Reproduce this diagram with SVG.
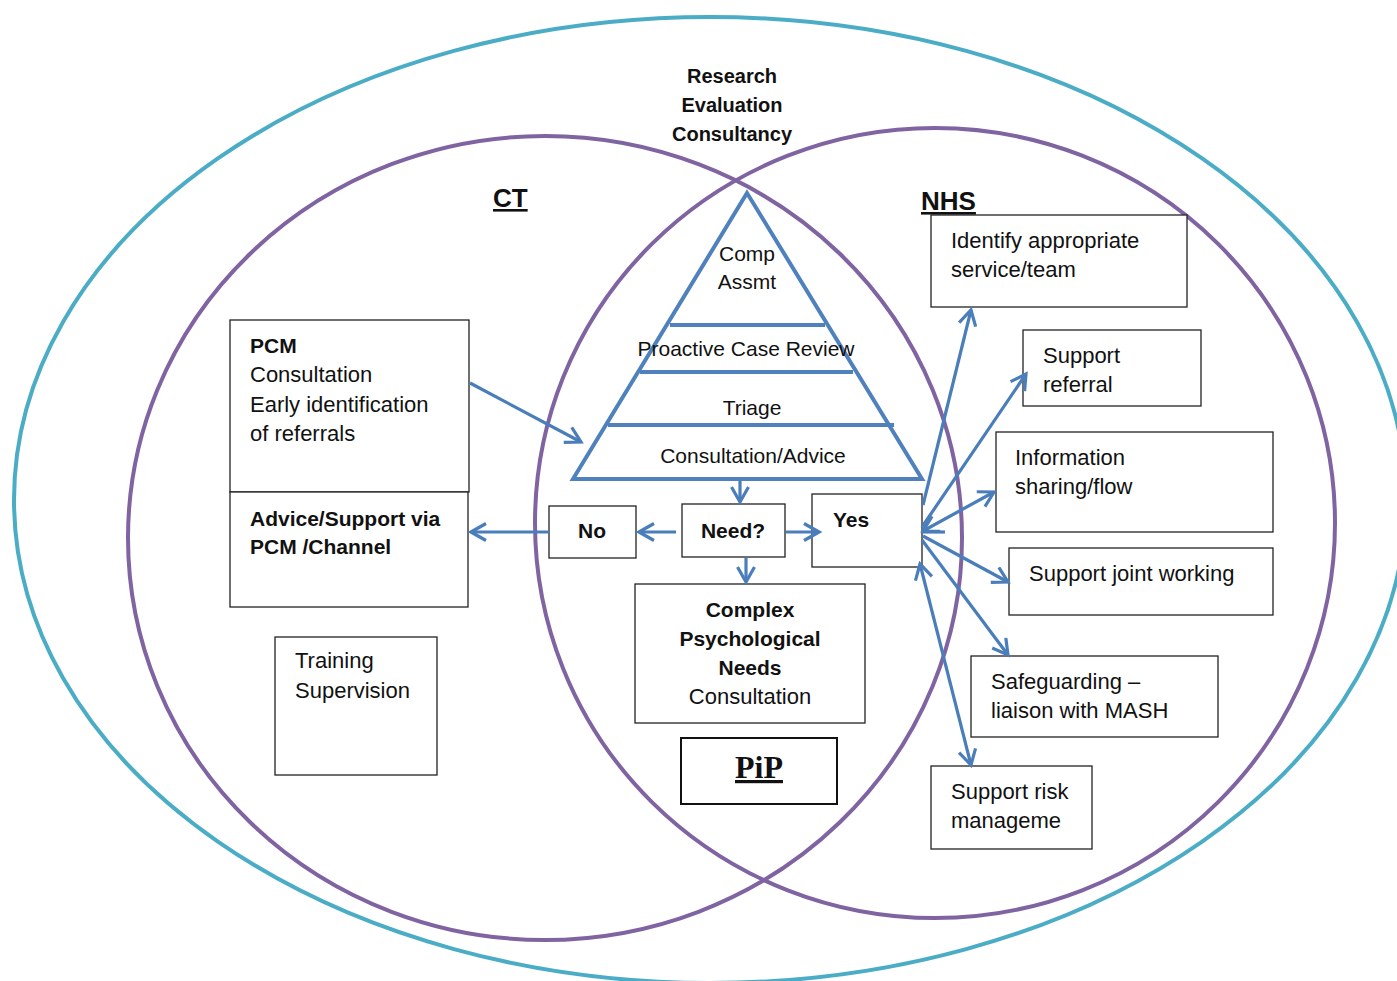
<svg xmlns="http://www.w3.org/2000/svg" width="1397" height="981" viewBox="0 0 1397 981">
<style>
.teal{fill:none;stroke:#4BACC6;stroke-width:4}
.purple{fill:none;stroke:#8064A2;stroke-width:4}
.box{fill:#fff;stroke:#222;stroke-width:1.3}
.tri{fill:none;stroke:#4F81BD;stroke-width:4}
.conn{fill:none;stroke:#4A7EBB;stroke-width:3.2}
.t{font-family:"Liberation Sans",Arial,sans-serif;font-size:22px;fill:#111}
.tp{font-family:"Liberation Sans",Arial,sans-serif;font-size:21px;fill:#111}
.b{font-family:"Liberation Sans",Arial,sans-serif;font-size:21px;font-weight:bold;fill:#111}
.h{font-family:"Liberation Sans",Arial,sans-serif;font-size:20px;font-weight:bold;fill:#111}
.mid{text-anchor:middle}
</style>
<defs>
<marker id="ah" viewBox="0 0 20 20" refX="17" refY="10" markerWidth="20" markerHeight="20" markerUnits="userSpaceOnUse" orient="auto-start-reverse">
<path d="M2,1.5 L17,10 L2,18.5" fill="none" stroke="#4A7EBB" stroke-width="3.2"/>
</marker>
</defs>
<rect width="1397" height="981" fill="#fff"/>
<g id="circles">
<ellipse class="teal" cx="710" cy="500" rx="696" ry="483"/>
<ellipse class="purple" cx="545" cy="538" rx="417" ry="402"/>
<ellipse class="purple" cx="935" cy="523" rx="400" ry="395"/>
</g>
<g id="labels">
<text class="h mid" x="732" y="83">Research</text>
<text class="h mid" x="732" y="112">Evaluation</text>
<text class="h mid" x="732" y="141">Consultancy</text>
<text x="493" y="207" style="font-family:'Liberation Sans',Arial,sans-serif;font-size:26px;font-weight:bold;text-decoration:underline" fill="#111">CT</text>
<text x="921" y="210" style="font-family:'Liberation Sans',Arial,sans-serif;font-size:26px;font-weight:bold;text-decoration:underline" fill="#111">NHS</text>
</g>
<g id="pyramid">
<path class="tri" d="M747,193 L573,479 L922,479 Z"/>
<line class="tri" x1="670" y1="325" x2="825" y2="325"/>
<line class="tri" x1="640" y1="372" x2="853" y2="372"/>
<line class="tri" x1="608" y1="425" x2="894" y2="425"/>
<text class="tp mid" x="747" y="261">Comp</text>
<text class="tp mid" x="747" y="289">Assmt</text>
<text class="tp mid" x="746" y="356">Proactive Case Review</text>
<text class="tp mid" x="752" y="415">Triage</text>
<text class="tp mid" x="753" y="463">Consultation/Advice</text>
</g>
<g id="pcm">
<rect class="box" x="230" y="320" width="239" height="172"/>
<text class="b" x="250" y="353">PCM</text>
<text class="t" x="250" y="382">Consultation</text>
<text class="t" x="250" y="412">Early identification</text>
<text class="t" x="250" y="441">of referrals</text>
</g>
<g id="advice">
<rect class="box" x="230" y="492" width="238" height="115"/>
<text class="b" x="250" y="526">Advice/Support via</text>
<text class="b" x="250" y="554">PCM /Channel</text>
</g>
<g id="training">
<rect class="box" x="275" y="637" width="162" height="138"/>
<text class="t" x="295" y="668">Training</text>
<text class="t" x="295" y="698">Supervision</text>
</g>
<g id="no">
<rect class="box" x="549" y="506" width="87" height="52"/>
<text class="b mid" x="592" y="538">No</text>
</g>
<g id="need">
<rect class="box" x="682" y="504" width="103" height="53"/>
<text class="b mid" x="733" y="538">Need?</text>
</g>
<g id="yes">
<rect class="box" x="812" y="494" width="110" height="73"/>
<text class="b" x="833" y="527">Yes</text>
</g>
<g id="complex">
<rect class="box" x="635" y="584" width="230" height="139"/>
<text class="b mid" x="750" y="617">Complex</text>
<text class="b mid" x="750" y="646">Psychological</text>
<text class="b mid" x="750" y="675">Needs</text>
<text class="t mid" x="750" y="704">Consultation</text>
</g>
<g id="pip">
<rect x="681" y="738" width="156" height="66" fill="#fff" stroke="#111" stroke-width="2"/>
<text x="759" y="778" text-anchor="middle" style="font-family:'Liberation Serif','Times New Roman',serif;font-size:32px;font-weight:bold;text-decoration:underline" fill="#111">PiP</text>
</g>
<g id="identify">
<rect class="box" x="931" y="215" width="256" height="92"/>
<text class="t" x="951" y="248">Identify appropriate</text>
<text class="t" x="951" y="277">service/team</text>
</g>
<g id="referral">
<rect class="box" x="1023" y="330" width="178" height="76"/>
<text class="t" x="1043" y="363">Support</text>
<text class="t" x="1043" y="392">referral</text>
</g>
<g id="info">
<rect class="box" x="996" y="432" width="277" height="100"/>
<text class="t" x="1015" y="465">Information</text>
<text class="t" x="1015" y="494">sharing/flow</text>
</g>
<g id="joint">
<rect class="box" x="1009" y="548" width="264" height="67"/>
<text class="t" x="1029" y="581">Support joint working</text>
</g>
<g id="safeguarding">
<rect class="box" x="971" y="656" width="247" height="81"/>
<text class="t" x="991" y="689">Safeguarding –</text>
<text class="t" x="991" y="718">liaison with MASH</text>
</g>
<g id="risk">
<rect class="box" x="931" y="766" width="161" height="83"/>
<text class="t" x="951" y="799">Support risk</text>
<text class="t" x="951" y="828">manageme</text>
</g>
<g id="connectors">
<line class="conn" x1="470" y1="383" x2="581" y2="442" marker-end="url(#ah)"/>
<line class="conn" x1="740" y1="481" x2="740" y2="502" marker-end="url(#ah)"/>
<line class="conn" x1="676" y1="532" x2="639" y2="532" marker-end="url(#ah)"/>
<line class="conn" x1="549" y1="532" x2="471" y2="532" marker-end="url(#ah)"/>
<line class="conn" x1="786" y1="532" x2="819" y2="532" marker-end="url(#ah)"/>
<line class="conn" x1="746" y1="558" x2="746" y2="582" marker-end="url(#ah)"/>
<line class="conn" x1="923" y1="505" x2="971" y2="310" marker-end="url(#ah)"/>
<line class="conn" x1="922" y1="527" x2="1026" y2="374" marker-end="url(#ah)"/>
<line class="conn" x1="923" y1="531" x2="994" y2="492" marker-start="url(#ah)" marker-end="url(#ah)"/>
<line class="conn" x1="922" y1="532" x2="945" y2="532"/>
<line class="conn" x1="923" y1="536" x2="1008" y2="582" marker-end="url(#ah)"/>
<line class="conn" x1="922" y1="540" x2="1008" y2="655" marker-end="url(#ah)"/>
<line class="conn" x1="920" y1="564" x2="971" y2="765" marker-start="url(#ah)" marker-end="url(#ah)"/>
</g>
</svg>
